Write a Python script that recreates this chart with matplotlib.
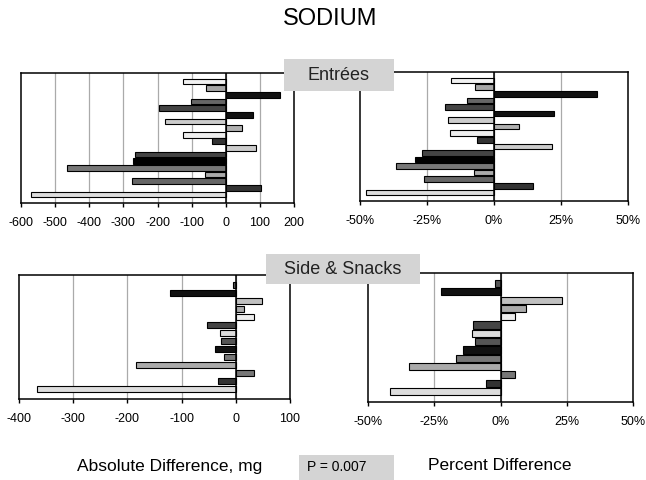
import matplotlib
matplotlib.use("Agg")
import matplotlib.pyplot as plt
from matplotlib.patches import Rectangle

plt.rcParams["font.family"] = ["Liberation Sans", "DejaVu Sans"]

# ENTREES - one bar per item, top to bottom
entree_abs = [-124, -57, 158, -102, -195, 80, -178, 47, -124, -39, 90, -267, -272, -466, -60, -276, 103, -571]
entree_pct = [-16, -7, 38.3, -10, -18.4, 22.5, -17.2, 9.3, -16.3, -6.3, 21.6, -27, -29.5, -36.6, -7.4, -26, 14.5, -47.9]
entree_colors = ["#f2f2f2", "#a6a6a6", "#111111", "#666666", "#444444", "#111111", "#cccccc", "#b0b0b0", "#eeeeee",
                 "#333333", "#cccccc", "#444444", "#000000", "#777777", "#aaaaaa", "#666666", "#333333", "#dddddd"]

# SIDES & SNACKS
side_abs = [-6, -121, 48, 15, 34, -53, -30, -27, -38, -22, -185, 33, -32, -367]
side_pct = [-1.9, -22.4, 23.1, 9.8, 5.5, -10.5, -10.9, -9.8, -14.1, -16.8, -34.6, 5.5, -5.5, -41.6]
side_colors = ["#555555", "#111111", "#c0c0c0", "#aaaaaa", "#eeeeee", "#444444", "#dddddd", "#555555",
               "#111111", "#777777", "#aaaaaa", "#777777", "#333333", "#dddddd"]

abs_ticks_top = [-600, -500, -400, -300, -200, -100, 0, 100, 200]
abs_ticks_bot = [-400, -300, -200, -100, 0, 100]
pct_ticks = [-50, -25, 0, 25, 50]
pct_labels = ["-50%", "-25%", "0%", "25%", "50%"]

W, H = 646, 480
fig = plt.figure(figsize=(W / 100, H / 100), dpi=100)


def box(l, t, r, b):
    return [l / W, 1 - b / H, (r - l) / W, (b - t) / H]


def panel(rect, vals, colors, ticks, labels, pad):
    ax = fig.add_axes(rect)
    y = list(range(len(vals)))
    ax.barh(y, vals, height=0.85, color=colors, edgecolor="black", linewidth=0.8, zorder=3)
    ax.set_ylim(len(vals) - 1 + pad, -pad)
    ax.set_xlim(ticks[0], ticks[-1])
    ax.set_xticks(ticks)
    ax.set_xticklabels(labels, fontsize=9)
    ax.set_yticks([])
    ax.tick_params(axis="x", direction="out", length=3, width=1, pad=7)
    for t in ticks[1:-1]:
        ax.axvline(t, color="#aaaaaa", linewidth=0.9, zorder=1)
    ax.axvline(0, color="black", linewidth=1.1, zorder=4)
    for s in ax.spines.values():
        s.set_linewidth(1.1)
    return ax


panel(box(21, 73, 294, 203), entree_abs, entree_colors, abs_ticks_top, [str(t) for t in abs_ticks_top], 1.3)
panel(box(360, 72, 628, 201), entree_pct, entree_colors, pct_ticks, pct_labels, 1.3)
panel(box(19, 275, 290, 399), side_abs, side_colors, abs_ticks_bot, [str(t) for t in abs_ticks_bot], 1.25)
panel(box(368, 273, 633, 402), side_pct, side_colors, pct_ticks, pct_labels, 1.25)

# grey label boxes
for l, t, r, b in [(284, 59, 394, 91), (266, 254, 420, 284), (299, 455, 394, 480)]:
    fig.patches.append(Rectangle((l / W, 1 - b / H), (r - l) / W, (b - t) / H,
                                 transform=fig.transFigure, facecolor="#d4d4d4", edgecolor="none", zorder=5))

fig.text(339 / W, 1 - 75 / H, "Entrées", ha="center", va="center", fontsize=13, color="#222222", zorder=6)
fig.text(343 / W, 1 - 269 / H, "Side & Snacks", ha="center", va="center", fontsize=13, color="#222222", zorder=6)
fig.text(307 / W, 1 - 467 / H, "P = 0.007", ha="left", va="center", fontsize=10, zorder=6)

fig.text(330 / W, 1 - 19 / H, "SODIUM", ha="center", va="center", fontsize=17)
fig.text(170 / W, 1 - 466 / H, "Absolute Difference, mg", ha="center", va="center", fontsize=12.5)
fig.text(500 / W, 1 - 466 / H, "Percent Difference", ha="center", va="center", fontsize=12.5)

fig.savefig("out.png", dpi=100)
